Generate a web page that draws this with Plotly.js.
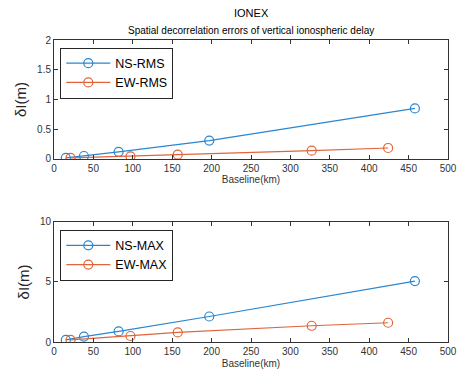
<!DOCTYPE html>
<html>
<head>
<meta charset="utf-8">
<script src="https://cdn.plot.ly/plotly-3.0.1.min.js"></script>
<style>html,body{margin:0;padding:0;background:#fff}#chart{width:460px;height:376px}</style>
</head>
<body>
<div id="chart"></div>
<script>
// Baselines (km) and decorrelation errors (m)
const nsBaseline = [15, 38, 82, 197, 458];
const ewBaseline = [21, 97, 157, 327, 424];
const nsRms = [0.02, 0.05, 0.12, 0.31, 0.85];
const ewRms = [0.02, 0.045, 0.073, 0.14, 0.185];
const nsMax = [0.18, 0.45, 0.88, 2.12, 5.07];
const ewMax = [0.18, 0.5, 0.8, 1.35, 1.6];
const xTicks = [0, 50, 100, 150, 200, 250, 300, 350, 400, 450, 500];
const yTicksTop = [0, 0.5, 1, 1.5, 2];
const yTicksBottom = [0, 5, 10];

const blue = '#2a86d0';
const orange = '#e0653a';
const font = {family: 'Arial, Liberation Sans, sans-serif', size: 10, color: '#333'};

function series(x, y, name, color, xa, ya, legend) {
  return {
    x: x, y: y, name: name, type: 'scatter', mode: 'lines+markers',
    xaxis: xa, yaxis: ya, legend: legend,
    line: {color: color, width: 1.2},
    marker: {symbol: 'circle-open', size: 9, color: color, line: {width: 1.2, color: color}}
  };
}

const traces = [
  series(nsBaseline, nsRms, 'NS-RMS', blue, 'x', 'y', 'legend'),
  series(ewBaseline, ewRms, 'EW-RMS', orange, 'x', 'y', 'legend'),
  series(nsBaseline, nsMax, 'NS-MAX', blue, 'x2', 'y2', 'legend2'),
  series(ewBaseline, ewMax, 'EW-MAX', orange, 'x2', 'y2', 'legend2')
];

function xAxis(anchor) {
  return {
    anchor: anchor, range: [0, 500], tickvals: xTicks, ticktext: xTicks.map(String),
    showline: true, linecolor: '#333', linewidth: 1, mirror: 'ticks',
    ticks: 'inside', ticklen: 4, tickcolor: '#333', showgrid: false, zeroline: false,
    tickfont: font,
    title: {text: 'Baseline(km)', font: font, standoff: 3}
  };
}
function yAxis(anchor, range, ticks, domain) {
  return {
    anchor: anchor, range: range, tickvals: ticks, ticktext: ticks.map(String), domain: domain,
    showline: true, linecolor: '#333', linewidth: 1, mirror: 'ticks',
    ticks: 'inside', ticklen: 4, tickcolor: '#333', showgrid: false, zeroline: false,
    tickfont: font,
    title: {text: 'δI(m)', font: {family: font.family, size: 15, color: '#262626'}, standoff: 6}
  };
}
function legendBox(y) {
  return {
    x: 0.016, y: y, xanchor: 'left', yanchor: 'top',
    bgcolor: '#fff', bordercolor: '#262626', borderwidth: 1,
    font: {family: font.family, size: 12.5, color: '#000'},
    itemwidth: 44, tracegroupgap: 0
  };
}

const layout = {
  width: 460, height: 376,
  margin: {l: 54, r: 12, t: 40, b: 34},
  paper_bgcolor: '#fff', plot_bgcolor: '#fff',
  showlegend: true,
  xaxis: xAxis('y'),
  yaxis: yAxis('x', [0, 2], yTicksTop, [0.606, 1]),
  xaxis2: xAxis('y2'),
  yaxis2: yAxis('x2', [0, 10], yTicksBottom, [0, 0.398]),
  legend: legendBox(0.975),
  legend2: legendBox(0.372),
  annotations: [
    {text: 'IONEX', xref: 'paper', yref: 'paper', x: 0.5, y: 1, yshift: 27, showarrow: false,
     font: {family: font.family, size: 11, color: '#000'}, yanchor: 'middle'},
    {text: 'Spatial decorrelation errors of vertical ionospheric delay', xref: 'paper', yref: 'paper',
     x: 0.5, y: 1, yshift: 10, showarrow: false,
     font: {family: font.family, size: 10, color: '#000'}, yanchor: 'middle'}
  ]
};

Plotly.newPlot('chart', traces, layout, {staticPlot: true, displayModeBar: false});
</script>
</body>
</html>
